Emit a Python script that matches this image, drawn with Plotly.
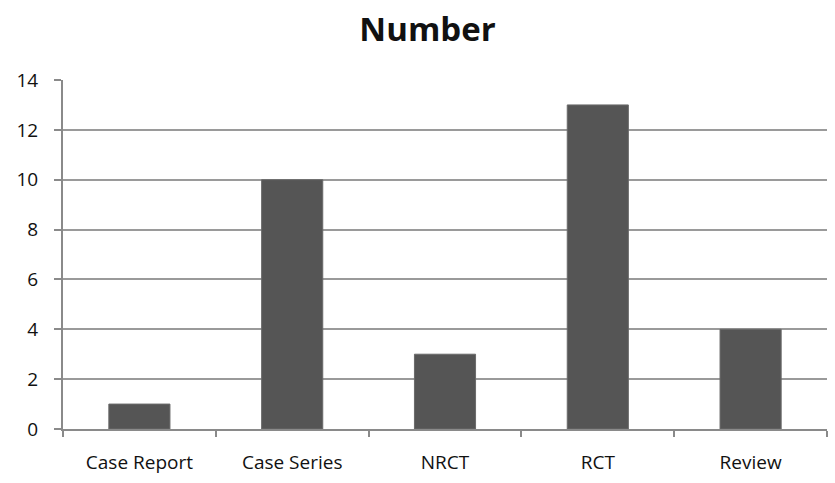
import plotly.graph_objects as go

categories = ["Case Report", "Case Series", "NRCT", "RCT", "Review"]
counts = [1, 10, 3, 13, 4]
y_ticks = [0, 2, 4, 6, 8, 10, 12, 14]

fig = go.Figure(
    go.Bar(
        x=categories,
        y=counts,
        width=0.4,
        marker=dict(color="#555555", line=dict(color="#6a6a6a", width=1)),
    )
)

fig.update_layout(
    width=835,
    height=483,
    margin=dict(l=63, r=8, t=80, b=54),
    paper_bgcolor="white",
    plot_bgcolor="white",
    showlegend=False,
    font=dict(family="Open Sans, Noto Sans, sans-serif", color="#111111"),
    title=dict(
        text="<b>Number</b>",
        x=0.512,
        xanchor="center",
        y=0.938,
        yanchor="middle",
        font=dict(size=33, family="Open Sans, sans-serif", color="#111111"),
    ),
)

fig.update_xaxes(
    type="category",
    showline=True,
    linecolor="#8a8a8a",
    linewidth=2,
    ticks="outside",
    tickson="boundaries",
    ticklen=6,
    tickcolor="#8a8a8a",
    tickwidth=2,
    showgrid=False,
    tickfont=dict(size=19, color="#111111"),
    ticklabelstandoff=15,
)

fig.update_yaxes(
    range=[0, 14],
    tickvals=y_ticks,
    showline=True,
    linecolor="#8a8a8a",
    linewidth=2,
    ticks="outside",
    ticklen=7,
    tickcolor="#8a8a8a",
    tickwidth=2,
    showgrid=True,
    gridcolor="#9a9a9a",
    gridwidth=1.5,
    zeroline=False,
    tickfont=dict(size=19, color="#111111"),
    ticklabelstandoff=12,
)

fig.write_html("out.html")
